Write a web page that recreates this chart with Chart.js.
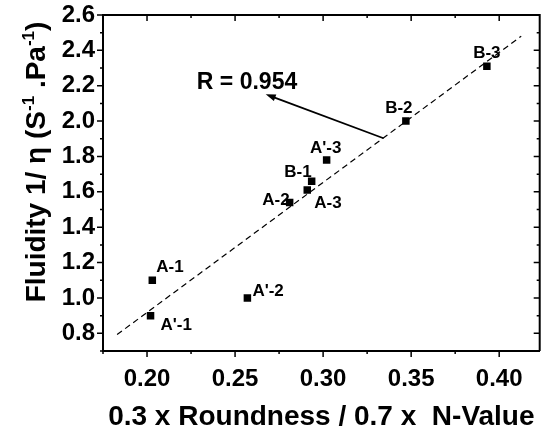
<!DOCTYPE html>
<html>
<head>
<meta charset="utf-8">
<script src="https://cdn.jsdelivr.net/npm/chart.js@4.4.0/dist/chart.umd.min.js"></script>
<style>
  body { margin: 0; background: #fff; }
  #chart { display: block; }
</style>
</head>
<body>
<canvas id="chart" width="545" height="430"></canvas>
<script>
// samples
const sampleNames = ["A-1", "A'-1", "A'-2", "A-2", "A-3", "B-1", "A'-3", "B-2", "B-3"];
const mixIndex = [0.203, 0.202, 0.257, 0.281, 0.291, 0.2935, 0.302, 0.347, 0.393];
const fluidity = [1.10, 0.90, 1.00, 1.54, 1.61, 1.66, 1.78, 2.00, 2.31];

// dashed linear fit
const fitX = [0.183, 0.4125];
const fitY = [0.793, 2.48];

const xTicks = [0.20, 0.25, 0.30, 0.35, 0.40];
const yTicks = [0.8, 1.0, 1.2, 1.4, 1.6, 1.8, 2.0, 2.2, 2.4, 2.6];

const rLabel = "R = 0.954";
const arrowFrom = [0.3343, 1.903];
const arrowTo = [0.2674, 2.152];

const FONT = "'Liberation Sans', Arial, sans-serif";

// where each label sits relative to its point: [dx, dy (baseline), align]
const labelOffsets = {
    "A-1": [4, -8, "left"],
    "A'-1": [10, 14, "left"],
    "A'-2": [5, -2, "left"],
    "A-2": [0, 3, "right"],
    "A-3": [7, 18, "left"],
    "B-1": [0, -4, "right"],
    "A'-3": [-1, -7, "center"],
    "B-2": [-7, -8, "center"],
    "B-3": [0, -8, "center"]
};

const framePlugin = {
    id: "frame",
    afterDraw(chart) {
        const { ctx, chartArea: a, scales: { x, y } } = chart;
        ctx.save();
        ctx.strokeStyle = "#000";
        ctx.lineWidth = 2;
        ctx.beginPath();
        ctx.moveTo(a.left, a.top);
        ctx.lineTo(a.right, a.top);
        ctx.lineTo(a.right, a.bottom);
        ctx.stroke();

        ctx.lineWidth = 1.5;
        ctx.beginPath();
        const xMinor = [xTicks[0] - 0.025].concat(xTicks.map(v => v + 0.025));
        const yMinor = [yTicks[0] - 0.1].concat(yTicks.map(v => v + 0.1));
        xTicks.forEach(v => {
            const px = x.getPixelForValue(v);
            ctx.moveTo(px, a.bottom); ctx.lineTo(px, a.bottom + 6);
            ctx.moveTo(px, a.top); ctx.lineTo(px, a.top + 6);
        });
        xMinor.forEach(v => {
            if (v <= x.min || v >= x.max) return;
            const px = x.getPixelForValue(v);
            ctx.moveTo(px, a.bottom); ctx.lineTo(px, a.bottom + 3);
            ctx.moveTo(px, a.top); ctx.lineTo(px, a.top + 3);
        });
        yTicks.forEach(v => {
            const py = y.getPixelForValue(v);
            ctx.moveTo(a.left, py); ctx.lineTo(a.left - 6, py);
            ctx.moveTo(a.right, py); ctx.lineTo(a.right - 6, py);
        });
        yMinor.forEach(v => {
            if (v <= y.min || v >= y.max) return;
            const py = y.getPixelForValue(v);
            ctx.moveTo(a.left, py); ctx.lineTo(a.left - 3, py);
            ctx.moveTo(a.right, py); ctx.lineTo(a.right - 3, py);
        });
        ctx.stroke();

        // y axis title with superscripts
        const parts = [
            ["Fluidity 1/ \u03b7 (S", false],
            ["-1", true],
            [" .Pa", false],
            ["-1", true],
            [")", false]
        ];
        const big = "bold 28px " + FONT;
        const small = "bold 17px " + FONT;
        let total = 0;
        parts.forEach(([t, sup]) => { ctx.font = sup ? small : big; total += ctx.measureText(t).width; });
        ctx.translate(45, 162);
        ctx.rotate(-Math.PI / 2);
        ctx.fillStyle = "#000";
        ctx.textBaseline = "alphabetic";
        let cx = -total / 2;
        parts.forEach(([t, sup]) => {
            ctx.font = sup ? small : big;
            ctx.fillText(t, cx, sup ? -11 : 0);
            cx += ctx.measureText(t).width;
        });
        ctx.restore();
    }
};

const labelPlugin = {
    id: "pointLabels",
    afterDatasetsDraw(chart) {
        const { ctx, scales: { x, y } } = chart;
        const meta = chart.getDatasetMeta(1);
        ctx.save();
        ctx.fillStyle = "#000";
        ctx.font = "bold 17px " + FONT;
        ctx.textBaseline = "alphabetic";
        meta.data.forEach((pt, i) => {
            const [dx, dy, align] = labelOffsets[sampleNames[i]];
            ctx.textAlign = align;
            ctx.fillText(sampleNames[i], pt.x + dx, pt.y + dy);
        });

        // arrow pointing at the R value
        const x0 = x.getPixelForValue(arrowFrom[0]), y0 = y.getPixelForValue(arrowFrom[1]);
        const x1 = x.getPixelForValue(arrowTo[0]), y1 = y.getPixelForValue(arrowTo[1]);
        const ang = Math.atan2(y1 - y0, x1 - x0);
        ctx.strokeStyle = "#000";
        ctx.lineWidth = 1.8;
        ctx.beginPath();
        ctx.moveTo(x0, y0);
        ctx.lineTo(x1 - 6 * Math.cos(ang), y1 - 6 * Math.sin(ang));
        ctx.stroke();
        ctx.beginPath();
        ctx.moveTo(x1, y1);
        ctx.lineTo(x1 - 10 * Math.cos(ang) + 3.5 * Math.sin(ang), y1 - 10 * Math.sin(ang) - 3.5 * Math.cos(ang));
        ctx.lineTo(x1 - 10 * Math.cos(ang) - 3.5 * Math.sin(ang), y1 - 10 * Math.sin(ang) + 3.5 * Math.cos(ang));
        ctx.closePath();
        ctx.fill();

        ctx.font = "bold 23px " + FONT;
        ctx.textAlign = "left";
        ctx.fillText(rLabel, x.getPixelForValue(0.2283), y.getPixelForValue(2.181));
        ctx.restore();
    }
};

new Chart(document.getElementById("chart"), {
    type: "scatter",
    data: {
        datasets: [
            {
                label: "fit",
                type: "line",
                data: fitX.map((v, i) => ({ x: v, y: fitY[i] })),
                borderColor: "#000",
                borderWidth: 1.2,
                borderDash: [6, 4],
                pointRadius: 0,
                fill: false
            },
            {
                label: "samples",
                data: mixIndex.map((v, i) => ({ x: v, y: fluidity[i] })),
                pointStyle: "rect",
                pointRadius: 5.3,
                backgroundColor: "#000",
                borderColor: "#000",
                borderWidth: 0
            }
        ]
    },
    options: {
        responsive: false,
        animation: false,
        devicePixelRatio: 1,
        layout: { padding: { top: 15, right: 4, left: 0, bottom: 0 } },
        plugins: {
            legend: { display: false },
            tooltip: { enabled: false }
        },
        scales: {
            x: {
                type: "linear",
                min: 0.175,
                max: 0.423,
                afterBuildTicks: s => { s.ticks = xTicks.map(v => ({ value: v })); },
                afterFit: s => { s.height = 79; s.paddingLeft = 0; s.paddingRight = 0; },
                grid: { display: false, drawTicks: false },
                border: { display: true, color: "#000", width: 2 },
                ticks: {
                    font: { family: FONT, size: 24, weight: "bold" },
                    color: "#000",
                    padding: 14,
                    callback: v => v.toFixed(2)
                },
                title: {
                    display: true,
                    text: "0.3 x Roundness / 0.7 x  N-Value",
                    font: { family: FONT, size: 28, weight: "bold" },
                    color: "#000",
                    padding: { top: 0, bottom: -4 }
                }
            },
            y: {
                type: "linear",
                min: 0.7,
                max: 2.6,
                afterBuildTicks: s => { s.ticks = yTicks.map(v => ({ value: v })); },
                afterFit: s => { s.width = 103; s.paddingTop = 0; s.paddingBottom = 0; },
                grid: { display: false, drawTicks: false },
                border: { display: true, color: "#000", width: 2 },
                ticks: {
                    font: { family: FONT, size: 24, weight: "bold" },
                    color: "#000",
                    padding: 8,
                    callback: v => v.toFixed(1)
                }
            }
        }
    },
    plugins: [framePlugin, labelPlugin]
});
</script>
</body>
</html>
